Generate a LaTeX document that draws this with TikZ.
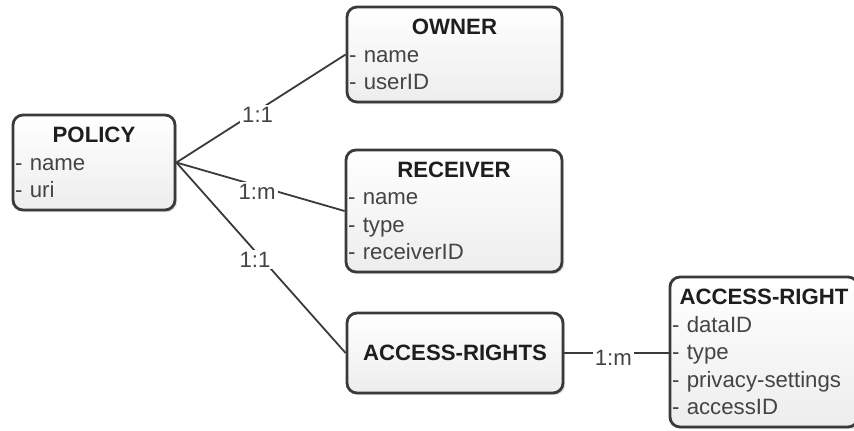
\documentclass[tikz,border=0pt]{standalone}
\usepackage{fontspec}
\setmainfont{Liberation Sans}
\usetikzlibrary{shadows}
\definecolor{linecol}{HTML}{3A3A3A}
\definecolor{titlecol}{HTML}{1E1E1E}
\definecolor{attrcol}{HTML}{444444}
\newcommand{\etitle}[1]{{\centering\bfseries\color{titlecol}#1\par}}

\begin{document}
\begin{tikzpicture}[x=0.5pt,y=-0.5pt,
  entity/.style 2 args={draw=linecol, line width=1.4pt, rounded corners=5pt,
    top color=white, bottom color=black!7,
    drop shadow={opacity=0.25, shadow xshift=1pt, shadow yshift=-1pt},
    inner xsep=1pt, inner ysep=0pt, align=left, text width=#1, minimum height=#2,
    font=\fontsize{11.1}{13.75}\selectfont, text=attrcol},
  card/.style={fill=white, inner sep=1pt, text=attrcol,
    font=\fontsize{11.1}{13.75}\selectfont},
  link/.style={draw=linecol, line width=0.9pt}]
    \useasboundingbox (0,0) rectangle (854,430);
    \clip (0,0) rectangle (854,430);
    \node (policy) at (94,162.5) [entity={79pt}{47.5pt}] {\etitle{POLICY}- name\\- uri};
    \node (owner) at (454.5,54.5) [entity={105.5pt}{47.5pt}] {\etitle{OWNER}- name\\- userID};
    \node (receiver) at (454,211) [entity={106pt}{61pt}] {\etitle{RECEIVER}- name\\- type\\- receiverID};
    \node (rights) at (455,353) [entity={106pt}{40pt}] {\etitle{ACCESS-RIGHTS}};
    \node (right) at (764,352) [entity={92pt}{75pt}] {\etitle{ACCESS-RIGHT}- dataID\\- type\\- privacy-settings\\- accessID};
   \draw[link]
    (policy.east) -- node[card,pos=.48,yshift=-2pt] {1:1} (owner.west);
   \draw[link]
    (policy.east) -- node[card,pos=.48,yshift=-3pt] {1:m} (receiver.west);
   \draw[link]
    (policy.east) -- node[card,pos=.5,xshift=-3pt,yshift=-1pt] {1:1} (rights.west);
   \draw[link]
    (rights.east) -- node[card,pos=.47,yshift=-2.5pt] {1:m} (right.west |- rights.east);
  \end{tikzpicture}
\end{document}
